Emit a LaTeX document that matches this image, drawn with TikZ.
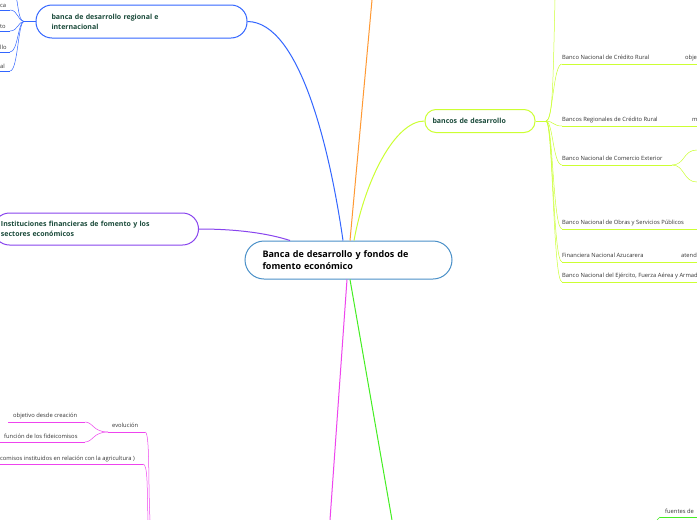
\documentclass[tikz,border=0pt]{standalone}
\usepackage{fontspec}
\setmainfont{Open Sans}
\definecolor{rootblue}{HTML}{4A90C8}
\definecolor{topicblue}{HTML}{3366FF}
\definecolor{lime}{HTML}{CCFF33}
\definecolor{violet}{HTML}{8844EE}
\definecolor{magent}{HTML}{EE44EE}
\definecolor{grn}{HTML}{44EE22}
\definecolor{orng}{HTML}{FF9933}
\definecolor{txtgreen}{HTML}{1A4A3A}
\begin{document}
\begin{tikzpicture}[x=1pt,y=-1pt,
  topic/.style={draw, line width=1pt, rounded corners=16pt, minimum height=33pt, text width=#1, inner sep=0pt, font=\fontsize{7}{10}\selectfont\bfseries, text=txtgreen, align=left},
  sub/.style={font=\fontsize{5.8}{6}\selectfont, inner sep=0pt, anchor=base west, text=black!80},
  uline/.style={line width=1pt},
  thin/.style={line width=0.5pt},
]
\clip (0,0) rectangle (697,520);
\fill[white] (0,0) rectangle (697,520);
% central topic
\node[draw=rootblue, line width=1pt, rounded corners=19pt, minimum width=207pt, minimum height=38pt, text width=172pt, align=left, inner sep=0pt, font=\fontsize{9}{12.5}\selectfont\bfseries] (root) at (348.5,260) {Banca de desarrollo y fondos de\\fomento económico};
% main topics
\node[topic=180pt, draw=topicblue, minimum width=211pt] (regional) at (141.5,21.5) {banca de desarrollo regional e\\internacional};
\node[topic=95pt, draw=lime, minimum width=110pt, minimum height=23pt, rounded corners=11pt] (bancos) at (480,121) {bancos de desarrollo};
\node[topic=190pt, draw=violet, minimum width=205pt, minimum height=32pt] (instit) at (96,229) {Instituciones financieras de fomento y los\\sectores económicos};
% connectors to the centre
\draw[topicblue, line width=1pt] (regional.east) .. controls (300,22) and (330,150) .. (root.north -| 343,0);
\draw[orng, line width=1pt] (root.north -| 350,0) -- (372,0);
\draw[lime, line width=1pt] (bancos.west) .. controls (395,121) and (365,180) .. (root.north -| 354,0);
\draw[violet, line width=1pt] (instit.east) .. controls (240,229) and (270,234) .. (root.north -| 290,0);
\draw[magent, line width=1pt] (root.south -| 347,0) -- (330,520);
\draw[grn, line width=1pt] (root.south -| 350,0) -- (392,520);
% left fan of regional
\coordinate (rfan) at (24,21.5);
\draw[topicblue, thin] (regional.west) -- (rfan);
\foreach \y/\t in {10/ca,31/to,52/llo,71/al}{
  \node[sub] at (0,\y-3) {\t};
  \draw[topicblue, thin] (rfan) .. controls (18,21.5) and (18,\y) .. (10,\y);
  \draw[topicblue, uline] (0,\y) -- (10,\y);
}
\draw[topicblue, thin] (rfan) .. controls (18,21.5) and (18,0) .. (16,-2);
% children of bancos
\coordinate (bfan) at (546,121);
\draw[lime, thin] (bancos.east) -- (bfan);
\draw[lime, thin] (bfan) .. controls (553,121) and (553,80) .. (555,0);
\foreach \y/\e/\t in {64/657/Banco Nacional de Crédito Rural,126/666/Bancos Regionales de Crédito Rural,165/672/Banco Nacional de Comercio Exterior,229/697/Banco Nacional de Obras y Servicios Públicos,262/652/Financiera Nacional Azucarera,282/697/{Banco Nacional del Ejército, Fuerza Aérea y Armada}}{
  \node[sub] at (562,\y-5) {\t};
  \draw[lime, thin] (bfan) .. controls (553,121) and (553,\y) .. (562,\y);
  \draw[lime, uline] (562,\y) -- (\e,\y);
}
\node[sub] at (685,59) {obje};
\draw[lime, thin] (657,64) -- (681,64);
\draw[lime, uline] (681,64) -- (697,64);
\node[sub] at (692,121) {m};
\draw[lime, thin] (666,126) -- (688,126);
\draw[lime, uline] (688,126) -- (697,126);
\draw[lime, thin] (672,165) .. controls (685,165) and (683,150) .. (697,150);
\draw[lime, thin] (672,165) .. controls (685,165) and (683,182) .. (697,182);
\node[sub] at (681,257) {atend};
\draw[lime, thin] (652,262) -- (677,262);
\draw[lime, uline] (677,262) -- (697,262);
% lower left branch
\coordinate (evo) at (145,432);
\node[sub] at (112,427) {evolución};
\draw[magent, uline] (108,432) -- (evo);
\draw[magent, thin] (evo) .. controls (150,432) and (148,480) .. (150,520);
\node[sub] at (13,417) {objetivo desde creación};
\draw[magent, uline] (8,422) -- (85,422);
\draw[magent, thin] (85,422) .. controls (93,422) and (93,432) .. (108,432);
\node[sub] at (4,438) {función de los fideicomisos};
\draw[magent, uline] (0,442) -- (85,442);
\draw[magent, thin] (85,442) .. controls (93,442) and (93,432) .. (108,432);
\node[sub] at (0,460) {comisos instituidos en relación con la agricultura )};
\draw[magent, uline] (0,464) -- (143,464);
\draw[magent, thin] (143,464) .. controls (148,464) and (147,490) .. (148,520);
% lower right branch
\node[sub] at (665,513) {fuentes de};
\draw[grn, uline] (660,517) -- (697,517);
\draw[grn, thin] (660,517) -- (657,520);
\end{tikzpicture}
\end{document}
